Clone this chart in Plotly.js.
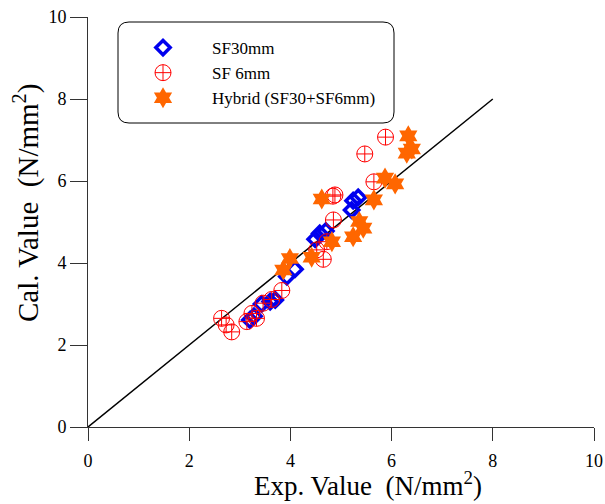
<!DOCTYPE html>
<html>
<head>
<meta charset="utf-8">
<script src="https://cdn.plot.ly/plotly-3.0.1.min.js"></script>
<style>html,body{margin:0;padding:0;background:#fff;}</style>
</head>
<body>
<div id="chart" style="width:605px;height:504px;"></div>
<script>
// Data
const sf30X = [3.20, 3.28, 3.43, 3.60, 3.70, 3.93, 4.09, 4.49, 4.58, 4.70, 5.21, 5.24, 5.34];
const sf30Y = [2.61, 2.70, 3.00, 3.06, 3.10, 3.67, 3.85, 4.58, 4.72, 4.78, 5.29, 5.52, 5.60];

const sf6X = [2.64, 2.73, 2.84, 3.14, 3.24, 3.33, 3.46, 3.63, 3.83, 4.52, 4.65, 4.72, 4.85, 4.84, 4.88, 5.65, 5.47, 5.88];
const sf6Y = [2.65, 2.49, 2.32, 2.57, 2.77, 2.65, 3.02, 3.11, 3.33, 4.32, 4.09, 4.52, 5.05, 5.63, 5.66, 5.98, 6.66, 7.07];

const hybX = [3.86, 3.99, 4.42, 4.62, 4.82, 5.24, 5.36, 5.44, 5.65, 5.87, 6.07, 6.30, 6.40, 6.33];
const hybY = [3.83, 4.11, 4.14, 5.56, 4.52, 4.64, 5.01, 4.85, 5.54, 6.07, 5.93, 6.68, 6.78, 7.10];

const lineX = [0, 8];
const lineY = [0, 8];

const seriesNames = ["SF30mm", "SF 6mm", "Hybrid (SF30+SF6mm)"];
const tickVals = [0, 2, 4, 6, 8, 10];

// layout geometry (pixels)
const W = 605, H = 504;
const L = 88, R = 594, T = 17, B = 427;
const px = x => (x - L) / (R - L);
const py = y => (B - y) / (B - T);

function roundRect(x0, y0, x1, y1, r) {
  const rx = r / (R - L), ry = r / (B - T);
  const a = px(x0), b = px(x1), top = py(y0), bot = py(y1);
  return `M ${a + rx} ${top} L ${b - rx} ${top} Q ${b} ${top} ${b} ${top - ry} ` +
         `L ${b} ${bot + ry} Q ${b} ${bot} ${b - rx} ${bot} ` +
         `L ${a + rx} ${bot} Q ${a} ${bot} ${a} ${bot + ry} ` +
         `L ${a} ${top - ry} Q ${a} ${top} ${a + rx} ${top} Z`;
}

const font = "'Liberation Serif', 'Times New Roman', serif";

const traces = [
  {
    x: lineX, y: lineY, mode: "lines", showlegend: false,
    line: {color: "#000", width: 1.5}, hoverinfo: "skip"
  },
  {
    x: sf30X, y: sf30Y, mode: "markers", name: seriesNames[0],
    marker: {symbol: "diamond-open", size: 11, color: "#0000ee", line: {width: 3.5, color: "#0000ee"}}
  },
  {
    x: sf6X, y: sf6Y, mode: "markers", name: seriesNames[1],
    marker: {symbol: "circle-cross-open", size: 16, color: "#ff0000", line: {width: 1, color: "#ff0000"}}
  },
  {
    x: hybX, y: hybY, mode: "markers", name: seriesNames[2],
    marker: {symbol: "hexagram", size: 16, color: "#ff6600", line: {width: 0}}
  }
];

const axisCommon = {
  range: [0, 10], tickvals: tickVals, showgrid: false, zeroline: false,
  showline: true, linecolor: "#333", linewidth: 1,
  ticks: "outside", tickcolor: "#333", tickwidth: 1,
  tickfont: {family: font, size: 18, color: "#000"}
};

const layout = {
  width: W, height: H,
  margin: {l: L, r: W - R, t: T, b: H - B},
  paper_bgcolor: "#fff", plot_bgcolor: "#fff",
  xaxis: Object.assign({}, axisCommon, {ticklen: 13, ticklabelstandoff: 4}),
  yaxis: Object.assign({}, axisCommon, {ticklen: 17}),
  showlegend: true,
  legend: {
    x: px(114), y: py(30), xanchor: "left", yanchor: "top",
    bgcolor: "rgba(0,0,0,0)", borderwidth: 0,
    itemwidth: 88,
    font: {family: font, size: 17, color: "#000"},
    traceorder: "normal"
  },
  shapes: [{
    type: "path", xref: "paper", yref: "paper",
    path: roundRect(118, 22, 394, 123, 11),
    line: {color: "#000", width: 1}, fillcolor: "rgba(0,0,0,0)"
  }],
  annotations: [
    {
      xref: "paper", yref: "paper", x: px(368), y: py(484),
      xanchor: "center", yanchor: "middle", showarrow: false,
      text: "Exp. Value&nbsp;&nbsp;(N/mm<sup>2</sup>)",
      font: {family: font, size: 27, color: "#000"}
    },
    {
      xref: "paper", yref: "paper", x: px(27), y: py(203),
      xanchor: "center", yanchor: "middle", showarrow: false, textangle: -90,
      text: "Cal. Value&nbsp;&nbsp;(N/mm<sup>2</sup>)",
      font: {family: font, size: 29, color: "#000"}
    }
  ]
};

Plotly.newPlot("chart", traces, layout, {displayModeBar: false, staticPlot: true});
</script>
</body>
</html>
